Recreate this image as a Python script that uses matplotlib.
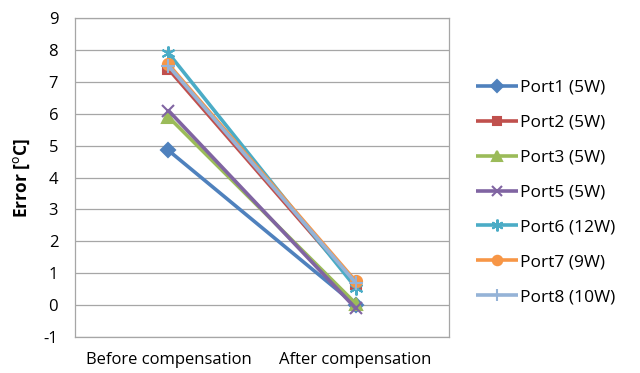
import matplotlib
matplotlib.use("Agg")
import matplotlib.pyplot as plt

categories = ["Before compensation", "After compensation"]
series_names = ["Port1 (5W)", "Port2 (5W)", "Port3 (5W)", "Port5 (5W)",
                "Port6 (12W)", "Port7 (9W)", "Port8 (10W)"]
before = [4.85, 7.4, 5.9, 6.1, 7.9, 7.55, 7.5]
after = [0.0, 0.65, 0.05, -0.1, 0.55, 0.75, 0.7]
yticks = [-1, 0, 1, 2, 3, 4, 5, 6, 7, 8, 9]

colors = ["#4F81BD", "#C0504D", "#9BBB59", "#8064A2", "#4BACC6", "#F79646", "#95B3D7"]
markers = ["D", "s", "^", "x", (6, 2, 0), "o", "+"]
msizes = [7, 7, 8, 9, 10, 8, 10]

plt.rcParams['font.family'] = ['Open Sans', 'DejaVu Sans']

fig = plt.figure(figsize=(6.4, 3.73), dpi=100)
ax = fig.add_axes([0.117, 0.0965, 0.585, 0.855])

x = [0, 1]
for i, name in enumerate(series_names):
    ax.plot(x, [before[i], after[i]], color=colors[i], lw=2.6,
            marker=markers[i], markersize=msizes[i], markeredgewidth=1.5,
            label=name, solid_capstyle='butt')

ax.set_xlim(-0.5, 1.5)
ax.set_ylim(-1, 9)
ax.set_yticks(yticks)
ax.set_yticklabels([str(v) for v in yticks], fontsize=12)
ax.set_xticks(x)
ax.set_xticklabels(categories, fontsize=12)
ax.tick_params(length=0, pad=12)
ax.tick_params(axis='x', pad=11)
ax.grid(axis='y', color='#A6A6A6', lw=0.9)
ax.set_axisbelow(True)
for s in ax.spines.values():
    s.set_color('#A6A6A6')
    s.set_linewidth(0.9)
ax.set_ylabel("Error [$^{\\mathrm{o}}$C]", fontsize=12.5, fontweight='bold', labelpad=8)

leg = ax.legend(loc='center left', bbox_to_anchor=(1.03, 0.453), frameon=False,
                fontsize=12.5, handlelength=2.4, labelspacing=1.08,
                handletextpad=0.15, markerscale=0.85)

fig.savefig("out.png", dpi=100)
